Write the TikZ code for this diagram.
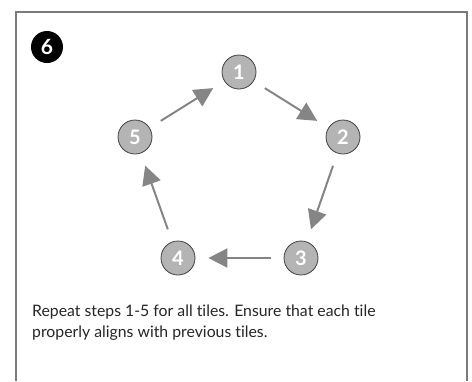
\documentclass[tikz,border=0pt]{standalone}
\usepackage{fontspec}
\setmainfont{Lato}[Ligatures={NoCommon}]
\usetikzlibrary{arrows.meta}
\definecolor{framegray}{HTML}{7A7A7A}
\definecolor{arrowgray}{HTML}{858585}
\definecolor{tilegray}{HTML}{B4B4B4}
\tikzset{
  tile/.style={circle, draw=black!75, line width=0.8pt, fill=tilegray, minimum size=34pt, inner sep=0pt,
    text=white, font=\fontsize{20}{20}\selectfont\bfseries},
  flow/.style={draw=arrowgray, line width=2pt, -{Triangle[length=19pt,width=19pt]}, shorten <=13pt, shorten >=13pt},
  badge/.style={circle, fill=black, minimum size=32pt, inner sep=0pt, text=white, font=\fontsize{21}{21}\selectfont\bfseries},
}
\begin{document}
\begin{tikzpicture}[x=1pt,y=-1pt]
\useasboundingbox (0,0) rectangle (472,381);
\draw[framegray, line width=1.4pt] (16,381) -- (16,12) -- (467,12) -- (467,381);
\node[badge] (b6) at (47,47) {6};
\node[tile] (n1) at (239,72) {1};
\node[tile] (n2) at (343,137) {2};
\node[tile] (n3) at (301,258) {3};
\node[tile] (n4) at (178,258) {4};
\node[tile] (n5) at (135,137) {5};
\draw[flow] (n1) -- (n2);
\draw[flow] (n2) -- (n3);
\draw[flow] (n3) -- (n4);
\draw[flow] (n4) -- (n5);
\draw[flow] (n5) -- (n1);
\node[anchor=base west, inner sep=0pt, align=left, font=\fontsize{15.8}{20.5}\selectfont, text=black!85] (txt) at (32,337)
  {Repeat steps 1-5 for all tiles. Ensure that each tile\\properly aligns with previous tiles.};
\end{tikzpicture}
\end{document}
